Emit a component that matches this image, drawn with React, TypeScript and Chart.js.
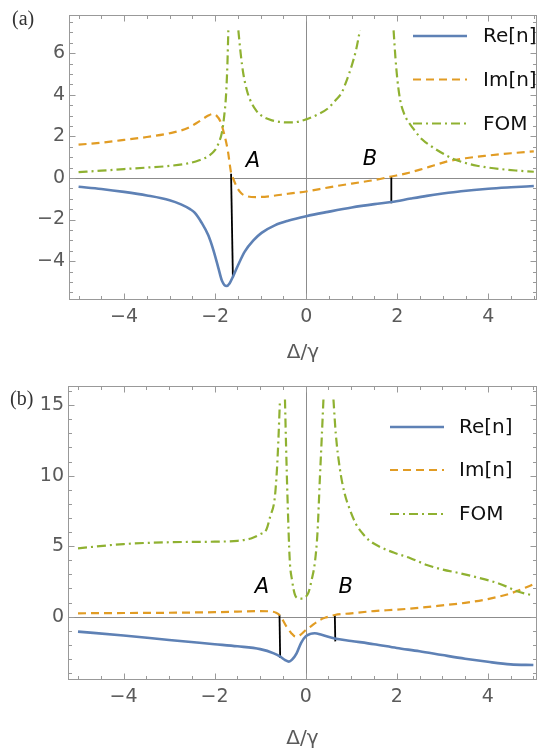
import React, { useEffect, useRef } from "react";
import { Chart, registerables } from "chart.js";

Chart.register(...registerables);

// ---------------- Panel (a) data ----------------
const aReX = [-5.0, -4.5, -4.0, -3.5, -3.0, -2.75, -2.55, -2.45, -2.3, -2.15, -2.04, -1.93, -1.85, -1.75, -1.68, -1.6, -1.49, -1.35, -1.16, -0.98, -0.69, -0.4, 0.0, 0.48, 1.0, 1.5, 1.87, 2.3, 2.65, 3.0, 3.4, 4.0, 4.5, 5.0];
const aReY = [-0.42, -0.53, -0.67, -0.84, -1.07, -1.27, -1.5, -1.67, -2.14, -2.76, -3.46, -4.32, -4.94, -5.2, -5.06, -4.71, -4.16, -3.54, -3.0, -2.64, -2.28, -2.06, -1.84, -1.63, -1.42, -1.26, -1.16, -0.99, -0.86, -0.75, -0.64, -0.52, -0.45, -0.39];

const aImX = [-5.0, -4.5, -4.0, -3.5, -3.0, -2.6, -2.35, -2.15, -2.05, -1.97, -1.88, -1.8, -1.72, -1.65, -1.6, -1.52, -1.42, -1.3, -1.1, -0.8, -0.4, 0.0, 0.5, 1.0, 1.5, 1.87, 2.2, 2.5, 2.8, 3.1, 3.5, 4.0, 4.5, 5.0];
const aImY = [1.6, 1.7, 1.83, 1.97, 2.15, 2.4, 2.72, 3.0, 3.08, 3.0, 2.7, 2.1, 1.3, 0.25, -0.05, -0.45, -0.75, -0.88, -0.92, -0.88, -0.76, -0.65, -0.45, -0.27, -0.1, 0.07, 0.22, 0.4, 0.6, 0.8, 0.95, 1.08, 1.19, 1.28];

const aFomX = [-5.0, -4.5, -4.0, -3.5, -3.0, -2.6, -2.35, -2.15, -2.0, -1.92, -1.85, -1.8, -1.76, -1.73, -1.71, -1.6, -1.49, -1.44, -1.38, -1.3, -1.24, -1.1, -0.95, -0.75, -0.5, -0.3, 0.0, 0.25, 0.48, 0.65, 0.78, 0.89, 1.0, 1.1, 1.18, 1.5, 1.92, 1.96, 2.0, 2.06, 2.15, 2.35, 2.55, 2.8, 3.05, 3.25, 3.5, 3.75, 4.0, 4.26, 4.6, 5.0];
const aFomY = [0.28, 0.35, 0.43, 0.5, 0.58, 0.7, 0.85, 1.05, 1.35, 1.7, 2.2, 3.0, 4.0, 5.5, 7.1, null, 7.1, 6.0, 5.0, 4.2, 3.8, 3.25, 2.95, 2.77, 2.68, 2.67, 2.82, 3.05, 3.35, 3.75, 4.1, 4.7, 5.4, 6.2, 7.1, null, 7.1, 5.8, 4.8, 3.8, 3.1, 2.38, 1.85, 1.45, 1.12, 0.9, 0.72, 0.59, 0.5, 0.43, 0.36, 0.3];

const aMarkAX = [-1.65, -1.61];
const aMarkAY = [0.2, -4.78];
const aMarkBX = [1.87, 1.87];
const aMarkBY = [0.07, -1.22];

// ---------------- Panel (b) data ----------------
const bReX = [-5.0, -4.0, -3.0, -2.0, -1.5, -1.0, -0.7, -0.55, -0.45, -0.37, -0.3, -0.2, -0.1, 0.0, 0.1, 0.2, 0.35, 0.64, 1.0, 1.5, 2.0, 2.5, 3.0, 3.5, 4.0, 4.5, 5.0];
const bReY = [-1.06, -1.33, -1.65, -1.95, -2.1, -2.3, -2.6, -2.85, -3.08, -3.19, -3.05, -2.6, -1.85, -1.4, -1.22, -1.17, -1.28, -1.55, -1.72, -1.95, -2.22, -2.45, -2.72, -2.98, -3.2, -3.38, -3.43];

const bImX = [-5.0, -4.0, -3.0, -2.0, -1.5, -1.0, -0.8, -0.65, -0.57, -0.5, -0.42, -0.32, -0.22, -0.12, 0.0, 0.1, 0.3, 0.45, 0.64, 1.0, 1.5, 2.0, 2.5, 3.0, 3.5, 4.0, 4.5, 5.0];
const bImY = [0.24, 0.26, 0.28, 0.32, 0.36, 0.4, 0.38, 0.28, 0.1, -0.25, -0.71, -1.15, -1.42, -1.3, -0.95, -0.72, -0.25, -0.05, 0.12, 0.24, 0.4, 0.5, 0.63, 0.8, 0.98, 1.25, 1.65, 2.3];

const bFomX = [-5.0, -4.0, -3.0, -2.0, -1.5, -1.2, -1.0, -0.86, -0.78, -0.68, -0.63, -0.6, -0.565, -0.51, -0.455, -0.43, -0.4, -0.35, -0.3, -0.235, -0.15, -0.07, 0.0, 0.06, 0.13, 0.2, 0.26, 0.31, 0.35, 0.39, 0.5, 0.61, 0.66, 0.75, 0.85, 0.97, 1.1, 1.25, 1.4, 1.6, 1.93, 2.3, 2.66, 3.0, 3.39, 3.75, 4.12, 4.4, 4.64, 5.0];
const bFomY = [4.85, 5.15, 5.28, 5.32, 5.38, 5.55, 5.85, 6.2, 7.1, 8.4, 10.5, 12.5, 15.4, null, 15.4, 12.0, 8.5, 4.0, 2.6, 1.55, 1.3, 1.28, 1.4, 1.7, 2.6, 3.8, 6.0, 9.7, 12.5, 15.4, null, 15.4, 13.0, 10.5, 8.8, 7.6, 6.6, 5.9, 5.4, 5.0, 4.55, 4.15, 3.67, 3.35, 3.08, 2.8, 2.48, 2.15, 1.8, 1.5];

const bMarkAX = [-0.575, -0.56];
const bMarkAY = [0.12, -2.92];
const bMarkBX = [0.64, 0.65];
const bMarkBY = [0.12, -1.75];

// ---------------- Ticks and labels ----------------
const xTicks = [-4, -2, 0, 2, 4];
const aYTicks = [-4, -2, 0, 2, 4, 6];
const bYTicks = [0, 5, 10, 15];
const seriesLabels = ["Re[n]", "Im[n]", "FOM"];
const markLabels = ["A", "B"];
const axisTitle = "Δ/γ";
const panelTags = ["(a)", "(b)"];

// ---------------- Styles ----------------
const BLUE = "#5E81B5";
const ORANGE = "#E19C24";
const GREEN = "#8FB131";
const DASH_IM = [8, 5];
const DASH_FOM = [9, 4, 2, 4];
const TICK_FONT = '"DejaVu Sans", sans-serif';

const pts = (xs: number[], ys: (number | null)[]) => xs.map((x, i) => ({ x, y: ys[i] }));
const fmt = (v: number) => (v < 0 ? "\u2212" + Math.abs(v) : String(v));

type PanelCfg = {
  top: number;
  height: number;
  padTop: number;
  axisW: number;
  axisH: number;
  xMin: number;
  xMax: number;
  yMin: number;
  yMax: number;
  yTicks: number[];
  yMinorStep: number;
  yMinorFrom: number;
  yMinorTo: number;
  titlePadBottom: number;
  tag: string;
  tagX: number;
  tagY: number;
  legend: { x0: number; x1: number; tx: number; rows: number[] };
  marks: { x: number; y: number }[];
  re: [number[], number[]];
  im: [number[], number[]];
  fom: [number[], (number | null)[]];
  markA: [number[], number[]];
  markB: [number[], number[]];
};

const decorPlugin = {
  id: "decor",
  beforeDatasetsDraw(chart: any) {
    const { ctx, chartArea: ca, scales } = chart;
    const x = scales.x, y = scales.y;
    ctx.save();
    ctx.strokeStyle = "#8c8c8c";
    ctx.lineWidth = 1;
    const x0 = Math.round(x.getPixelForValue(0)) + 0.5;
    const y0 = Math.round(y.getPixelForValue(0)) + 0.5;
    ctx.beginPath();
    ctx.moveTo(x0, ca.top);
    ctx.lineTo(x0, ca.bottom);
    ctx.moveTo(ca.left, y0);
    ctx.lineTo(ca.right, y0);
    ctx.stroke();
    ctx.restore();
  },
  afterDraw(chart: any, _a: any, opts: any) {
    const { ctx, chartArea: ca, scales } = chart;
    const x = scales.x, y = scales.y;
    const L = Math.round(ca.left) + 0.5, R = Math.round(ca.right) - 0.5;
    const T = Math.round(ca.top) + 0.5, B = Math.round(ca.bottom) - 0.5;
    ctx.save();
    ctx.strokeStyle = "#999";
    ctx.lineWidth = 1;
    ctx.setLineDash([]);
    ctx.strokeRect(L, T, R - L, B - T);
    ctx.beginPath();
    for (let k = -10; k <= 10; k++) {
      const v = k * 0.5;
      const major = xTicks.includes(v);
      const len = major ? 6 : 3.5;
      const px = Math.round(x.getPixelForValue(v)) + 0.5;
      if (px < L || px > R) continue;
      ctx.moveTo(px, B);
      ctx.lineTo(px, B - len);
      ctx.moveTo(px, T);
      ctx.lineTo(px, T + len);
    }
    const step = opts.yMinorStep;
    for (let v = opts.yMinorFrom; v <= opts.yMinorTo + 1e-9; v += step) {
      const vv = Math.round(v * 1000) / 1000;
      const major = opts.yTicks.includes(vv);
      const len = major ? 6 : 3.5;
      const py = Math.round(y.getPixelForValue(vv)) + 0.5;
      if (py < T || py > B) continue;
      ctx.moveTo(L, py);
      ctx.lineTo(L + len, py);
      ctx.moveTo(R, py);
      ctx.lineTo(R - len, py);
    }
    ctx.stroke();

    const lg = opts.legend;
    const styles = [
      { c: BLUE, w: 2.6, d: [] as number[] },
      { c: ORANGE, w: 2.2, d: DASH_IM },
      { c: GREEN, w: 2.2, d: DASH_FOM },
    ];
    ctx.font = '20px "DejaVu Sans", sans-serif';
    ctx.textAlign = "left";
    ctx.textBaseline = "middle";
    seriesLabels.forEach((lab, i) => {
      const s = styles[i];
      const ry = lg.rows[i];
      ctx.beginPath();
      ctx.strokeStyle = s.c;
      ctx.lineWidth = s.w;
      ctx.setLineDash(s.d);
      ctx.moveTo(lg.x0, ry);
      ctx.lineTo(lg.x1, ry);
      ctx.stroke();
      ctx.setLineDash([]);
      ctx.fillStyle = "#111";
      ctx.fillText(lab, lg.tx, ry + 1);
    });

    ctx.font = 'italic 21px "DejaVu Sans", sans-serif';
    ctx.textAlign = "center";
    ctx.fillStyle = "#000";
    opts.marks.forEach((m: any, i: number) => {
      ctx.fillText(markLabels[i], x.getPixelForValue(m.x), y.getPixelForValue(m.y));
    });

    ctx.font = '20px "Liberation Serif", serif';
    ctx.textAlign = "left";
    ctx.fillStyle = "#333";
    ctx.fillText(opts.tag, opts.tagX, opts.tagY);
    ctx.restore();
  },
};

function Panel({ cfg }: { cfg: PanelCfg }) {
  const ref = useRef<HTMLCanvasElement | null>(null);
  useEffect(() => {
    if (!ref.current) return;
    const lineBase = { pointRadius: 0, fill: false, spanGaps: false, cubicInterpolationMode: "monotone" as const };
    const chart = new Chart(ref.current, {
      type: "line",
      data: {
        datasets: [
          { ...lineBase, label: seriesLabels[2], data: pts(cfg.fom[0], cfg.fom[1]), borderColor: GREEN, borderWidth: 2.2, borderDash: DASH_FOM },
          { ...lineBase, label: seriesLabels[1], data: pts(cfg.im[0], cfg.im[1]), borderColor: ORANGE, borderWidth: 2.2, borderDash: DASH_IM },
          { ...lineBase, label: seriesLabels[0], data: pts(cfg.re[0], cfg.re[1]), borderColor: BLUE, borderWidth: 2.6 },
          { pointRadius: 0, label: "A", data: pts(cfg.markA[0], cfg.markA[1]), borderColor: "#000", borderWidth: 1.8 },
          { pointRadius: 0, label: "B", data: pts(cfg.markB[0], cfg.markB[1]), borderColor: "#000", borderWidth: 1.8 },
        ] as any,
      },
      options: {
        animation: false,
        responsive: false,
        maintainAspectRatio: false,
        events: [],
        layout: { padding: { left: 0, top: cfg.padTop, right: 4, bottom: 0 } },
        plugins: {
          legend: { display: false },
          tooltip: { enabled: false },
          decor: {
            yTicks: cfg.yTicks,
            yMinorStep: cfg.yMinorStep,
            yMinorFrom: cfg.yMinorFrom,
            yMinorTo: cfg.yMinorTo,
            legend: cfg.legend,
            marks: cfg.marks,
            tag: cfg.tag,
            tagX: cfg.tagX,
            tagY: cfg.tagY,
          },
        } as any,
        scales: {
          x: {
            type: "linear",
            min: cfg.xMin,
            max: cfg.xMax,
            afterBuildTicks: (s: any) => {
              s.ticks = xTicks.map((v) => ({ value: v }));
            },
            afterFit: (s: any) => {
              s.height = cfg.axisH;
            },
            grid: { display: false, drawTicks: false },
            border: { display: false },
            ticks: {
              padding: 6,
              color: "#5a5a5a",
              font: { family: TICK_FONT, size: 19 },
              maxRotation: 0,
              autoSkip: false,
              callback: (v: any) => fmt(Number(v)),
            },
            title: {
              display: true,
              text: axisTitle,
              color: "#5a5a5a",
              font: { family: TICK_FONT, size: 20, lineHeight: 0.9 },
              padding: { top: 0, bottom: cfg.titlePadBottom },
            },
          },
          y: {
            type: "linear",
            min: cfg.yMin,
            max: cfg.yMax,
            afterBuildTicks: (s: any) => {
              s.ticks = cfg.yTicks.map((v) => ({ value: v }));
            },
            afterFit: (s: any) => {
              s.width = cfg.axisW;
            },
            grid: { display: false, drawTicks: false },
            border: { display: false },
            ticks: {
              padding: 4,
              color: "#5a5a5a",
              font: { family: TICK_FONT, size: 19 },
              autoSkip: false,
              callback: (v: any) => fmt(Number(v)),
            },
          },
        },
      } as any,
      plugins: [decorPlugin as any],
    });
    return () => chart.destroy();
  }, [cfg]);
  return (
    <canvas
      ref={ref}
      width={541}
      height={cfg.height}
      style={{ position: "absolute", left: 0, top: cfg.top, width: 541, height: cfg.height }}
    />
  );
}

const panelA: PanelCfg = {
  top: 0,
  height: 365,
  padTop: 7,
  axisW: 69,
  axisH: 65,
  xMin: -5.21,
  xMax: 5.07,
  yMin: -5.87,
  yMax: 7.82,
  yTicks: aYTicks,
  yMinorStep: 0.5,
  yMinorFrom: -5.5,
  yMinorTo: 7.5,
  titlePadBottom: 3,
  tag: panelTags[0],
  tagX: 12,
  tagY: 20,
  legend: { x0: 413, x1: 467, tx: 483, rows: [36, 79.5, 123.5] },
  marks: [
    { x: -1.17, y: 0.81 },
    { x: 1.4, y: 0.9 },
  ],
  re: [aReX, aReY],
  im: [aImX, aImY],
  fom: [aFomX, aFomY],
  markA: [aMarkAX, aMarkAY],
  markB: [aMarkBX, aMarkBY],
};

const panelB: PanelCfg = {
  top: 365,
  height: 383,
  padTop: 21,
  axisW: 68,
  axisH: 68,
  xMin: -5.22,
  xMax: 5.08,
  yMin: -4.49,
  yMax: 16.36,
  yTicks: bYTicks,
  yMinorStep: 1,
  yMinorFrom: -4,
  yMinorTo: 16,
  titlePadBottom: 0,
  tag: panelTags[1],
  tagX: 10,
  tagY: 35,
  legend: { x0: 390, x1: 444, tx: 459, rows: [62, 105, 149] },
  marks: [
    { x: -0.96, y: 2.1 },
    { x: 0.88, y: 2.1 },
  ],
  re: [bReX, bReY],
  im: [bImX, bImY],
  fom: [bFomX, bFomY],
  markA: [bMarkAX, bMarkAY],
  markB: [bMarkBX, bMarkBY],
};

export default function App() {
  return (
    <div
      style={{
        position: "fixed",
        left: 0,
        top: 0,
        width: 541,
        height: 748,
        overflow: "hidden",
        background: "#fff",
      }}
    >
      <Panel cfg={panelA} />
      <Panel cfg={panelB} />
    </div>
  );
}
